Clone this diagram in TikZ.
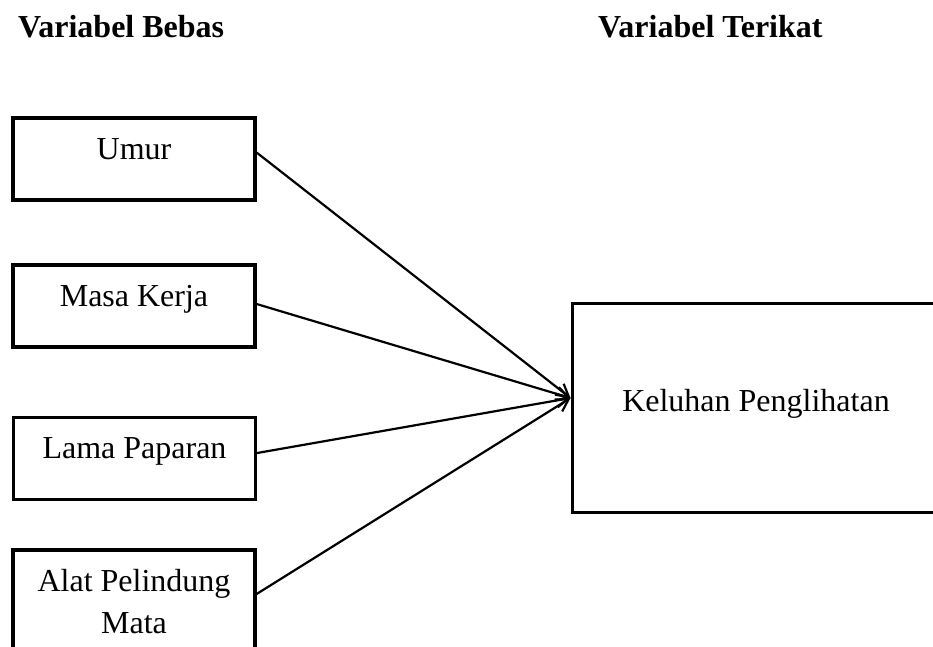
\documentclass[tikz,border=0pt]{standalone}
\usepackage{fontspec}
\setmainfont{Liberation Serif}
\usetikzlibrary{arrows.meta}
\begin{document}
\begin{tikzpicture}[x=1pt,y=-1pt,
  every node/.style={font=\fontsize{32}{42}\selectfont},
  boxframe/.style={draw, line width=3.2pt, minimum width=242pt, inner sep=0pt},
  leftbox/.style={boxframe, minimum height=82pt, text height=21pt, text depth=21pt},
  bigbox/.style={draw, line width=3pt, minimum width=368pt, minimum height=209pt, inner sep=0pt, text height=21pt, text depth=14pt},
  conn/.style={line width=2.2pt, -{Straight Barb[length=12pt,width=14pt]}},
  head/.style={font=\fontsize{32}{42}\selectfont\bfseries, anchor=base west, inner sep=0pt}]
\useasboundingbox (0,0) rectangle (933,646);
\clip (0,0) rectangle (933,646);
\node[head] (hb) at (18,37) {Variabel Bebas};
\node[head] (ht) at (598,37) {Variabel Terikat};
\node[leftbox] (umur) at (134,159) {Umur};
\node[leftbox] (masa) at (134,306) {Masa Kerja};
\node[leftbox] (lama) at (134.5,458.5) {Lama Paparan};
\node[boxframe, minimum height=104pt, align=center] (alat) at (134,602) {Alat Pelindung\\Mata};
\node[bigbox] (kel) at (756,407.5) {Keluhan Penglihatan};
\draw[conn] ([yshift=6.5pt]umur.east) -- ([yshift=9.5pt]kel.west);
\draw[conn] ([yshift=2pt]masa.east) -- ([yshift=9.5pt]kel.west);
\draw[conn] ([yshift=5.5pt]lama.east) -- ([yshift=9.5pt]kel.west);
\draw[conn] ([yshift=8pt]alat.east) -- ([yshift=9.5pt]kel.west);
\end{tikzpicture}
\end{document}
